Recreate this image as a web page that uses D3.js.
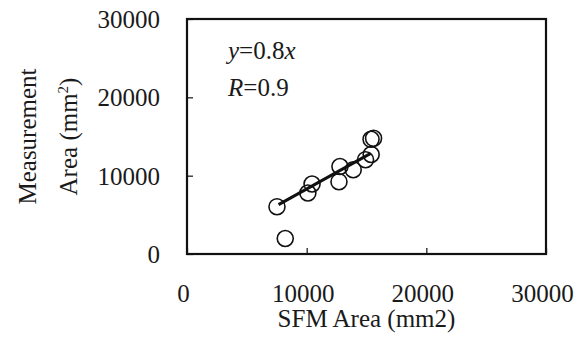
<!DOCTYPE html>
<html>
<head>
<meta charset="utf-8">
<script src="https://cdn.jsdelivr.net/npm/d3@7"></script>
<style>
  body { margin: 0; background: #fff; }
  svg text { font-family: "Liberation Serif", "Times New Roman", serif; fill: #1a1a1a; }
</style>
</head>
<body>
<svg id="scatter" width="583" height="341"></svg>
<script>
// values
var sfmArea = [7520, 8210, 10100, 10450, 12780, 12700, 13890, 14920, 15390, 15380, 15590];
var measArea = [6040, 1980, 7790, 8940, 11170, 9230, 10760, 12040, 12700, 14640, 14770];
var trendX = [7650, 15350];
var trendY = [6300, 12850];
var tickValues = [0, 10000, 20000, 30000];

var serif = '"Liberation Serif", "Times New Roman", serif';

var svg = d3.select("svg#scatter"),
    margin = { top: 19, right: 37, bottom: 87, left: 187 },
    width = svg.attr("width") - margin.left - margin.right,
    height = svg.attr("height") - margin.top - margin.bottom,
    g = svg.append("g")
        .attr("transform", "translate(" + margin.left + "," + margin.top + ")");

var x = d3.scaleLinear().domain([0, 30000]).range([0, width]);
var y = d3.scaleLinear().domain([0, 30000]).range([height, 0]);

// x axis, ticks pointing inward
var xAxis = g.append("g")
    .call(d3.axisBottom(x).tickValues(tickValues).tickSize(-6).tickFormat(d3.format("d")))
    .attr("transform", "translate(0," + height + ")")
    .attr("font-family", serif);
xAxis.select(".domain").remove();
xAxis.selectAll("line").attr("stroke", "#111").attr("stroke-width", 1.2);
xAxis.selectAll("text")
    .attr("y", 48)
    .attr("dy", 0)
    .attr("dx", -4)
    .style("font-family", serif)
    .style("font-size", "25px");

var yAxis = g.append("g")
    .call(d3.axisLeft(y).tickValues(tickValues).tickSize(-6).tickFormat(d3.format("d")))
    .attr("font-family", serif);
yAxis.select(".domain").remove();
yAxis.selectAll("line").attr("stroke", "#111").attr("stroke-width", 1.2);
yAxis.selectAll("text")
    .attr("x", -27)
    .attr("dy", "0.34em")
    .style("font-family", serif)
    .style("font-size", "25px");

// plot frame
g.append("rect")
    .attr("x", 0)
    .attr("y", 0)
    .attr("width", width)
    .attr("height", height)
    .attr("fill", "none")
    .attr("stroke", "#111")
    .attr("stroke-width", 2.2);

// trend line
g.append("line")
    .attr("x1", x(trendX[0]))
    .attr("y1", y(trendY[0]))
    .attr("x2", x(trendX[1]))
    .attr("y2", y(trendY[1]))
    .attr("stroke", "#111")
    .attr("stroke-width", 3);

// points
g.append("g")
    .selectAll("circle")
    .data(sfmArea)
    .enter()
    .append("circle")
    .attr("cx", d => x(d))
    .attr("cy", (d, i) => y(measArea[i]))
    .attr("r", 8)
    .attr("fill", "none")
    .attr("stroke", "#111")
    .attr("stroke-width", 1.6);

// annotation
var eq = g.append("text")
    .attr("x", 41)
    .attr("y", 40)
    .style("font-family", serif)
    .style("font-size", "25px");
eq.append("tspan").style("font-style", "italic").text("y");
eq.append("tspan").text("=0.8");
eq.append("tspan").style("font-style", "italic").text("x");

var rr = g.append("text")
    .attr("x", 41)
    .attr("y", 77)
    .style("font-family", serif)
    .style("font-size", "25px");
rr.append("tspan").style("font-style", "italic").text("R");
rr.append("tspan").text("=0.9");

// axis titles
svg.append("text")
    .attr("x", margin.left + width / 2)
    .attr("y", 327)
    .style("text-anchor", "middle")
    .style("font-size", "25px")
    .text("SFM Area (mm2)");

var ytitle = svg.append("g")
    .attr("transform", "translate(0," + (margin.top + height / 2) + ") rotate(-90)");
ytitle.append("text")
    .attr("x", 0)
    .attr("y", 36)
    .style("text-anchor", "middle")
    .style("font-size", "25px")
    .text("Measurement");
var t2 = ytitle.append("text")
    .attr("x", 0)
    .attr("y", 77)
    .style("text-anchor", "middle")
    .style("font-size", "25px");
t2.append("tspan").text("Area (mm");
t2.append("tspan").attr("dy", -9).style("font-size", "15px").text("2");
t2.append("tspan").attr("dy", 9).text(")");
</script>
</body>
</html>
